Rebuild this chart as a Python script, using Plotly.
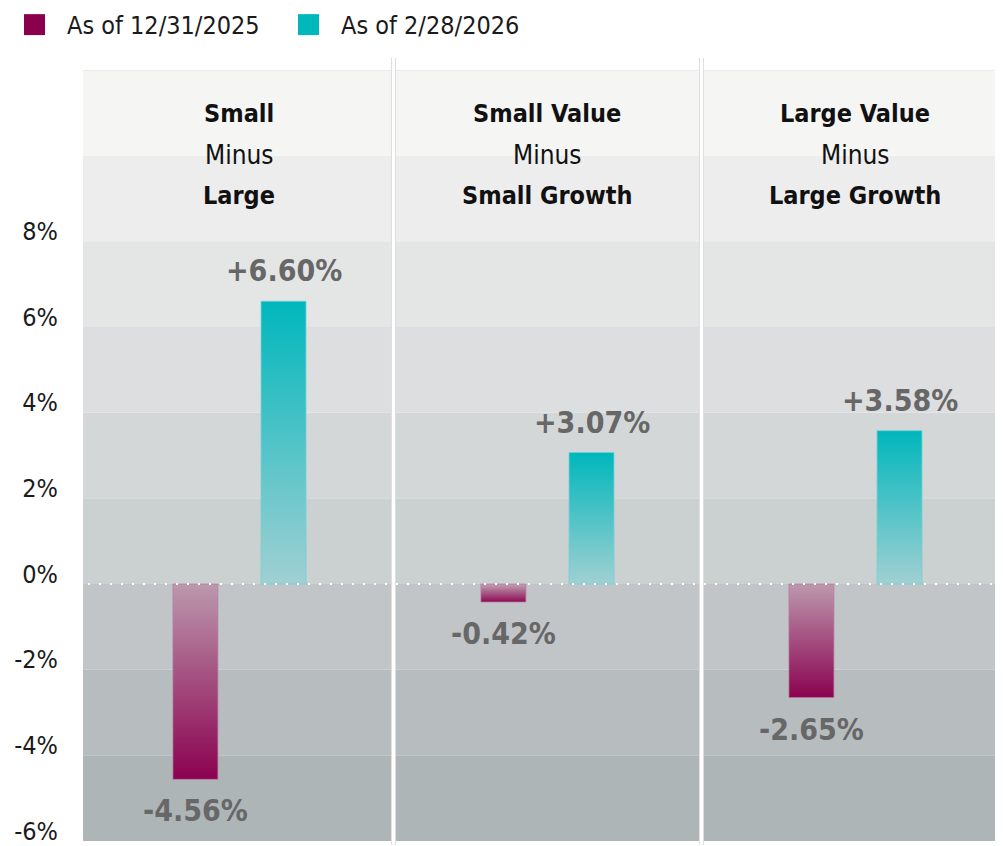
import plotly.graph_objects as go

# ---- data ----
header_top = ["Small", "Small Value", "Large Value"]
header_mid = ["Minus", "Minus", "Minus"]
header_bottom = ["Large", "Small Growth", "Large Growth"]
series_names = ["As of 12/31/2025", "As of 2/28/2026"]
values_dec2025 = [-4.56, -0.42, -2.65]
values_feb2026 = [6.60, 3.07, 3.58]
tick_values = [-6, -4, -2, 0, 2, 4, 6, 8]
tick_labels = ["-6%", "-4%", "-2%", "0%", "2%", "4%", "6%", "8%"]

# ---- style ----
FONT = "DejaVu Sans Condensed, Roboto, sans-serif"
MAGENTA = "#8a004f"
TEAL = "#00b7bc"
GRAD = {
    0: dict(tip=MAGENTA, base="#bb97ac", border="rgba(185,120,160,0.7)"),
    1: dict(tip=TEAL, base="#a2d0d3", border="rgba(110,210,214,0.8)"),
}
band_colors = ["#aeb5b6", "#b7bdbf", "#c1c5c8", "#cbd0d0", "#d3d7d8",
               "#dcdedf", "#e4e5e5", "#ededed", "#f5f5f4"]
Y_MIN, Y_MAX = -6, 12
X_MIN, X_MAX = -0.508, 2.479
BAR_W = 0.146
OFFSETS = [-0.143, 0.143]
LABEL_COLOR = "#676767"

# page body has an 8px margin: shrink the figure so it fills the window
PAGE = 8
W, H = 1003 - PAGE, 846 - PAGE
ML, MT, MB = 83 - PAGE, 70 - PAGE, 3
PW, PH = W - ML, H - MT - MB

fig = go.Figure()

series = [values_dec2025, values_feb2026]
for s, vals in enumerate(series):
    for i, v in enumerate(vals):
        c = i + OFFSETS[s]
        x0, x1 = c - BAR_W / 2, c + BAR_W / 2
        lo, hi = min(0, v), max(0, v)
        g = GRAD[s]
        if v < 0:
            cs = [[0, g["tip"]], [1, g["base"]]]
        else:
            cs = [[0, g["base"]], [1, g["tip"]]]
        fig.add_trace(go.Scatter(
            x=[x0, x1, x1, x0, x0], y=[0, 0, v, v, 0],
            mode="lines", fill="toself",
            line=dict(color=g["border"], width=1),
            fillgradient=dict(type="vertical", colorscale=cs, start=lo, stop=hi),
            name=series_names[s], legendgroup=series_names[s],
            showlegend=False, hoverinfo="skip",
        ))
        txt = ("+" if v > 0 else "") + f"{v:.2f}%"
        fig.add_annotation(
            x=c, y=v, text=f"<b>{txt}</b>", showarrow=False,
            yanchor="bottom" if v > 0 else "top",
            yshift=11 if v > 0 else -12,
            font=dict(family=FONT, size=30, color=LABEL_COLOR),
        )

shapes = []
# background bands
for k, col in enumerate(band_colors):
    lo = Y_MIN + 2 * k
    shapes.append(dict(type="rect", xref="paper", yref="y", x0=0, x1=1,
                       y0=lo, y1=lo + 2, fillcolor=col, line=dict(width=0),
                       layer="below"))
# top border
shapes.append(dict(type="line", xref="paper", yref="y", x0=0, x1=1, y0=Y_MAX, y1=Y_MAX,
                   line=dict(color="#e2e2e2", width=1), layer="below"))
# zero dotted line
shapes.append(dict(type="line", xref="paper", yref="y", x0=-6 / PW, x1=1, y0=0, y1=0,
                   line=dict(color="white", width=2, dash="2px,9px"), layer="above"))
# panel separators
for sep in [0.5, 1.5]:
    px = (sep - X_MIN) / (X_MAX - X_MIN)
    shapes.append(dict(type="line", xref="paper", yref="paper", x0=px, x1=px,
                       y0=-0.005, y1=1 + 12 / PH, line=dict(color="#dedede", width=5)))
    shapes.append(dict(type="line", xref="paper", yref="paper", x0=px, x1=px,
                       y0=-0.005, y1=1 + 12 / PH, line=dict(color="white", width=3)))

# legend (manual, pixel offsets from the plot's top-left corner)
leg_x = [24, 298]
for s, name in enumerate(series_names):
    lx = leg_x[s] - 83
    shapes.append(dict(type="rect", xref="paper", yref="paper",
                       x0=lx / PW, x1=(lx + 21) / PW,
                       y0=1 + (70 - 35) / PH, y1=1 + (70 - 14) / PH,
                       fillcolor=[MAGENTA, TEAL][s], line=dict(width=0)))
    fig.add_annotation(xref="paper", yref="paper",
                       x=(lx + 41) / PW, y=1 + (70 - 25) / PH,
                       xanchor="left", yanchor="middle", showarrow=False,
                       text=name, font=dict(family=FONT, size=25, color="#1a1a1a"))

# headers
header_y = [10.98, 10.02, 9.06]
for i in range(3):
    rows = [(header_top[i], True), (header_mid[i], False), (header_bottom[i], True)]
    for row, (txt, bold) in enumerate(rows):
        fig.add_annotation(x=i, y=header_y[row], showarrow=False,
                           text=f"<b>{txt}</b>" if bold else txt,
                           yanchor="middle",
                           font=dict(family=FONT, size=25 if bold else 26,
                                     color="#111111"))

fig.update_layout(
    width=W, height=H,
    margin=dict(l=ML, r=0, t=MT, b=MB),
    paper_bgcolor="white", plot_bgcolor="white",
    shapes=shapes, showlegend=False,
    xaxis=dict(range=[X_MIN, X_MAX], visible=False, fixedrange=True),
    yaxis=dict(range=[Y_MIN, Y_MAX], tickvals=tick_values, ticktext=tick_labels,
               showgrid=False, zeroline=False, showline=False,
               ticks="", ticklabelstandoff=24, ticklabelshift=-10,
               ticklabeloverflow="allow",
               tickfont=dict(family=FONT, size=25, color="#1a1a1a")),
)

fig.write_html("out.html")
